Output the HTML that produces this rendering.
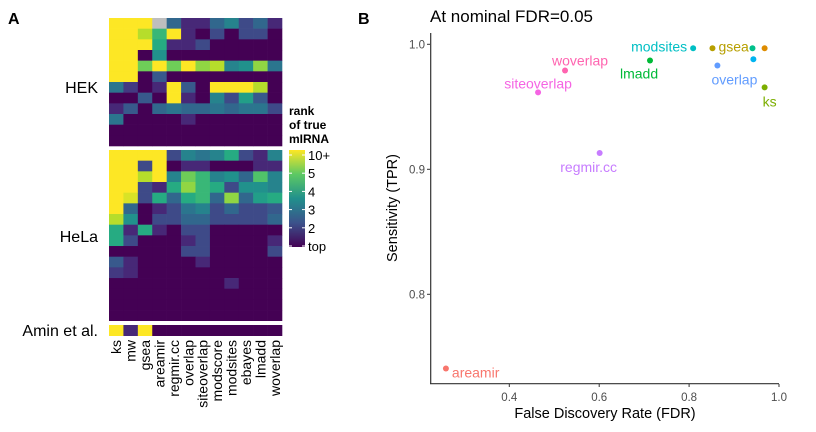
<!DOCTYPE html>
<html><head><meta charset="utf-8"><style>
body{margin:0;background:#fff;}
svg{display:block;font-family:"Liberation Sans",sans-serif;}
</style></head><body>
<svg id="s" width="816" height="432" xmlns="http://www.w3.org/2000/svg">
<defs><linearGradient id="vg" x1="0" y1="1" x2="0" y2="0">
<stop offset="0" stop-color="#440154"/><stop offset="0.25" stop-color="#3b528b"/><stop offset="0.5" stop-color="#21908c"/><stop offset="0.75" stop-color="#5dc963"/><stop offset="1" stop-color="#fde725"/></linearGradient></defs>
<text x="8" y="24" font-size="16" font-weight="bold">A</text>
<text x="358" y="24" font-size="16" font-weight="bold">B</text>
<g id="hm"></g>
<g>
<text x="289" y="115" font-size="12" font-weight="bold">rank</text>
<text x="289" y="129" font-size="12" font-weight="bold">of true</text>
<text x="289" y="143" font-size="12" font-weight="bold">mIRNA</text>
<rect x="289" y="150" width="16" height="97" fill="url(#vg)"/>
</g>
<g id="cb"></g>
<g id="sc"></g>
</svg>
<script>
const cols=["ks","mw","gsea","areamir","regmir.cc","overlap","siteoverlap","modscore","modsites","ebayes","lmadd","woverlap"];
const hek=[
[10,10,10,0,4,2,2,4,5,3,4,2],
[10,10,9,7,10,2,1,3,1,3,3,1],
[10,10,10,6.5,2,2,3,1,1,1,1,1],
[10,10,1,5.5,1,1,1,1,1,1,1,1],
[10,10,8,10,8,10,8.5,9,5,5.5,8.5,4.5],
[10,10,1,3.5,1,1,1,1,1,1,1,1],
[4.5,2.5,1,2,10,3.5,1,10,10,10,9,1],
[1,1,3.5,1,10,2,1,5,3,6,3.5,1],
[2,3.5,1,4,4.5,4,4,4.5,4,4.5,4.5,3],
[4.5,1,1,1,1,2,1,1,1,1,1,1],
[1,1,1,1,1,1,1,1,1,1,1,1],
[1,1,1,1,1,1,1,1,1,1,1,1]];
const hela=[
[10,10,10,10,3,5,4.5,5,6.5,3,2,5],
[10,10,3,10,1,2,2,1,1,1,2,2],
[10,10,9,10,5,8,7,5,5.5,4,7.5,5],
[10,10,3,2,6.5,8.5,7,6.5,3,5.5,5.5,5],
[10,9.5,3,6.5,4,6.5,7,4,8.5,4,6,6.5],
[10,4,1,2,3,4.5,5,3,4,3,3,3.5],
[9,5.5,1,3,3,4,4,3,3,3,3,4],
[6.5,2,6.5,2,1,3,3,1,1,1,1,1],
[6.5,3,1,1,1,2,3,1,1,1,1,2],
[1,1,1,1,1,3,3,1,1,1,1,3],
[3.5,2,1,1,1,1,2,1,1,1,1,1],
[2.5,2,1,1,1,1,1,1,1,1,1,1],
[1,1,1,1,1,1,1,1,2,1,1,1],
[1,1,1,1,1,1,1,1,1,1,1,1],
[1,1,1,1,1,1,1,1,1,1,1,1],
[1,1,1,1,1,1,1,1,1,1,1,1]];
const amin=[[10,2,10,1,1,1,1,1,1,1,1,1]];
const cbTicks=["top","2","3","4","5","10+"];

const methods=["areamir","ebayes","gsea","ks","lmadd","modscore","modsites","mw","overlap","regmir.cc","siteoverlap","woverlap"];
const fdr=[0.259,0.968,0.852,0.968,0.713,0.941,0.809,0.943,0.863,0.601,0.464,0.524];
const tpr=[0.7406,0.9968,0.9968,0.9655,0.987,0.9968,0.9968,0.988,0.983,0.913,0.9615,0.979];
const labeled=[true,false,true,true,true,false,true,false,true,true,true,true];
const xTicks=[0.4,0.6,0.8,1.0];
const yTicks=[0.8,0.9,1.0];

const NS="http://www.w3.org/2000/svg";
function mk(t,a,p){const e=document.createElementNS(NS,t);for(const k in a)e.setAttribute(k,a[k]);p.appendChild(e);return e;}
const VS=["#440154","#482475","#414487","#355f8d","#2a788e","#21918c","#22a884","#44bf70","#7ad151","#bddf26","#fde725"];
function vir(v){if(v===0)return"#bebebe";let t=(v-1)/9*10;let i=Math.min(9,Math.floor(t)),f=t-i;
 const a=VS[i],b=VS[i+1];const c=j=>Math.round(parseInt(a.substr(j,2),16)*(1-f)+parseInt(b.substr(j,2),16)*f);
 return"rgb("+c(1)+","+c(3)+","+c(5)+")";}
const hm=document.getElementById('hm');
const hx0=109,cw=(282-109)/12;
function panel(data,y0,rh,name,label,ly){
 const g=mk('g',{},hm);
 
 
 data.forEach((row,r)=>row.forEach((v,c)=>{
  const e=mk('rect',{x:hx0+c*cw,y:y0+r*rh,width:cw+0.3,height:rh+0.3,fill:vir(v)},g);
  
  
 }));
 const t=mk('text',{x:98,y:ly,'font-size':16,'text-anchor':'end'},hm);t.textContent=label;
 
 
}
panel(hek,18,128/12,'hek-panel','HEK',93);
panel(hela,150,170.7/16,'hela-panel','HeLa',242);
panel(amin,325,10.7,'amin-panel','Amin et al.',336);
cols.forEach((c,i)=>{const x=hx0+(i+0.5)*cw+5;
 const t=mk('text',{x:x,y:340,'font-size':14,'text-anchor':'end',transform:'rotate(-90 '+x+' 340)'},hm);t.textContent=c;
 
 });
const cb=document.getElementById('cb');
cbTicks.forEach((l,i)=>{const y=246-i*18.2;
 mk('line',{x1:289,x2:292,y1:y,y2:y,stroke:'#fff'},cb);mk('line',{x1:302,x2:305,y1:y,y2:y,stroke:'#fff'},cb);
 const t=mk('text',{x:308,y:y+5,'font-size':13},cb);t.textContent=l;
 
 });

const sc=document.getElementById('sc');
const X=v=>509.3+(v-0.4)*449.5, Y=v=>44.3+(1-v)*1250;
mk('line',{x1:430.7,x2:430.7,y1:33,y2:384,stroke:'#333','stroke-width':1.2},sc);
mk('line',{x1:430,x2:779,y1:383.7,y2:383.7,stroke:'#333','stroke-width':1.2},sc);
xTicks.forEach(v=>{mk('line',{x1:X(v),x2:X(v),y1:384,y2:387,stroke:'#333'},sc);
 const t=mk('text',{x:X(v),y:401,'font-size':11.5,fill:'#4d4d4d','text-anchor':'middle'},sc);t.textContent=v.toFixed(1);
 
 });
yTicks.forEach(v=>{mk('line',{x1:427,x2:430,y1:Y(v),y2:Y(v),stroke:'#333'},sc);
 const t=mk('text',{x:425,y:Y(v)+4,'font-size':11.5,fill:'#4d4d4d','text-anchor':'end'},sc);t.textContent=v.toFixed(1);
 
 });
let t=mk('text',{x:430,y:22,'font-size':17},sc);t.textContent='At nominal FDR=0.05';


t=mk('text',{x:605,y:418,'font-size':14.5,'text-anchor':'middle'},sc);t.textContent='False Discovery Rate (FDR)';


t=mk('text',{x:397,y:208,'font-size':14.5,'text-anchor':'middle',transform:'rotate(-90 397 208)'},sc);t.textContent='Sensitivity (TPR)';


const colors=["#F8766D","#DE8C00","#B79F00","#7CAE00","#00BA38","#00C08B","#00BFC4","#00B4F0","#619CFF","#C77CFF","#F564E3","#FF64B0"];
const off={areamir:[6,4,'start'],gsea:[6,-2,'start'],ks:[-2,14,'start'],lmadd:[-30,13,'start'],modsites:[-6,-2,'end'],overlap:[17,14,'middle'],"regmir.cc":[-11,14,'middle'],siteoverlap:[0,-9,'middle'],woverlap:[-13,-10,'start']};
methods.forEach((m,i)=>{const cx=X(fdr[i]),cy=Y(tpr[i]);
 const p=mk('circle',{cx:cx,cy:cy,r:3,fill:colors[i]},sc);
 
 
 if(labeled[i]){const o=off[m];
  const l=mk('text',{x:cx+o[0],y:cy+o[1]+5,'font-size':14,fill:colors[i],'text-anchor':o[2]},sc);l.textContent=m;
  
  }
});
</script>
</body></html>
